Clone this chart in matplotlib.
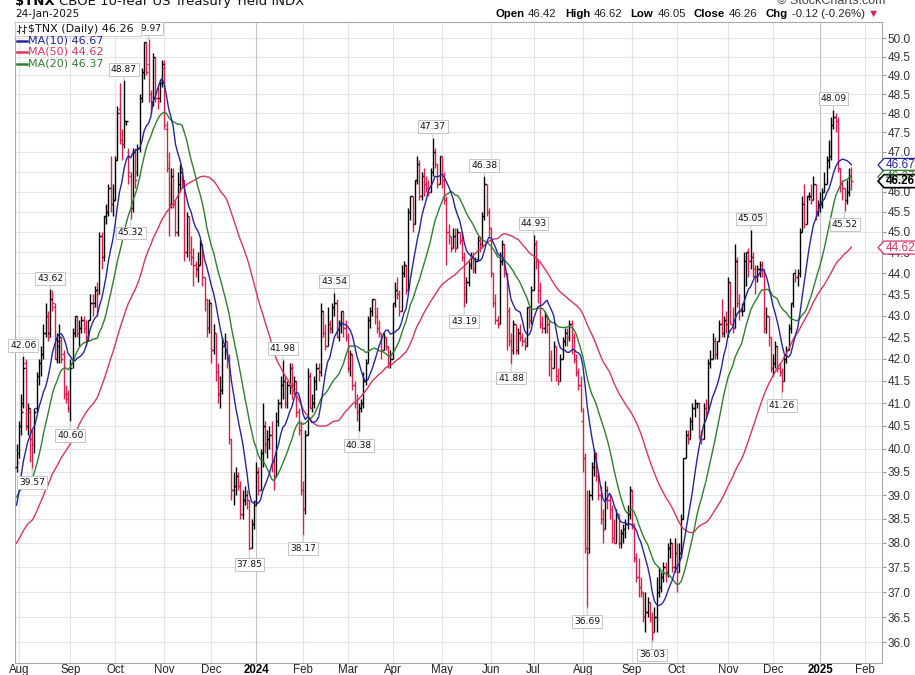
import numpy as np
import pandas as pd
import matplotlib
matplotlib.use('Agg')
import matplotlib.pyplot as plt
from matplotlib.patches import Polygon, Rectangle
from matplotlib.lines import Line2D

plt.rcParams['font.family'] = 'DejaVu Sans'

W, H = 915, 675
RED = '#d9204f'
BLUE = '#26269c'
GREEN = '#2f7f2f'
MA50C = '#d8355c'
GRID = '#e4e4e4'

# closes before the first bar (18-May-2023 .. 28-Jul-2023), only used to seed the moving averages
pre_closes = [36.4, 36.7, 37.2, 37.0, 37.4, 38.2, 38.0, 36.9, 36.4,
              36.1, 36.9, 36.9, 36.7, 37.9, 37.2, 37.4, 37.7, 38.4, 37.9, 37.2, 37.7, 37.3, 37.2, 38.0, 37.4, 37.2, 37.7, 37.1, 38.5, 38.1,
              38.6, 39.3, 40.4, 40.6, 40.1, 39.7, 38.6, 37.6, 38.3, 38.1, 37.8, 37.5, 38.5, 38.4, 38.7, 38.9, 38.7, 40.1, 39.6]

# daily bars 31-Jul-2023 .. 24-Jan-2025, one line per month
opens = [39.6,
         39.9, 40.5, 41.0, 41.9, 40.5, 40.8, 40.2, 40.1, 40.9, 41.6, 41.9, 42.1, 42.6, 43.0, 42.6, 43.4, 43.2, 42.0, 42.3, 42.4, 42.1, 41.2, 41.2,
         40.9, 41.9, 42.6, 43.0, 42.6, 42.7, 42.9, 42.7, 42.5, 42.9, 43.3, 43.3, 43.6, 43.6, 44.9, 44.4, 45.4, 45.5, 46.1, 45.7,
         45.8, 46.8, 48.1, 47.3, 47.2, 47.8, 47.0, 46.4, 45.6, 47.0, 46.5, 47.1, 48.4, 49.1, 49.9, 49.3, 48.5, 48.3, 49.5, 48.4, 48.4, 48.8,
         49.2, 47.6, 46.6, 45.7, 46.4, 45.7, 45.0, 46.2, 46.5, 46.3, 44.5, 45.4, 44.5, 44.4, 44.2, 44.1, 44.2, 44.7, 43.9, 43.4, 42.7,
         43.3, 42.2, 42.6, 41.7, 41.2, 41.3, 42.3, 42.4, 42.0, 40.2, 39.1, 39.2, 39.4, 39.2, 38.6, 38.9, 39.0, 38.9, 37.9, 38.4,
         38.8, 39.5, 39.1, 39.9, 40.5, 40.1, 40.2, 40.3, 39.7, 39.4, 40.6, 41.0, 41.4, 41.5, 41.0, 41.4, 41.8, 41.4, 41.5, 40.8, 40.4,
         39.1, 38.7, 40.3, 41.6, 40.9, 41.0, 41.5, 41.8, 41.7, 43.1, 42.6, 42.3, 42.8, 42.7, 43.2, 43.3, 42.5, 42.8, 43.1, 42.7,
         42.5, 41.8, 42.1, 41.4, 41.0, 40.8, 40.9, 41.0, 41.5, 41.9, 42.9, 43.1, 43.4, 43.0, 42.7, 42.6, 42.2, 42.5, 42.3, 41.9,
         42.0, 43.3, 43.6, 43.5, 43.1, 44.0, 44.2, 43.6, 45.5, 45.9, 45.2, 46.3, 46.7, 45.9, 46.4, 46.2, 46.1, 46.0, 46.5, 47.0, 46.7, 46.2,
         46.9, 46.3, 45.8, 45.0, 44.9, 44.6, 44.9, 44.6, 45.0, 44.8, 44.4, 43.5, 43.8, 44.2, 44.4, 44.1, 44.3, 44.8, 44.7, 45.4, 46.2, 45.5,
         45.1, 44.0, 43.3, 42.9, 42.8, 44.3, 44.7, 44.0, 43.1, 42.4, 42.2, 42.8, 42.2, 42.6, 42.5, 42.4, 42.3, 43.2, 42.9,
         43.6, 44.7, 44.3, 43.6, 42.8, 42.7, 43.0, 42.8, 42.0, 41.8, 42.3, 41.6, 41.5, 42.0, 42.4, 42.6, 42.5, 42.8, 42.5, 42.0, 41.7, 41.4,
         40.6, 39.8, 37.9, 37.9, 39.0, 39.6, 39.9, 39.4, 39.0, 38.5, 38.3, 39.1, 38.9, 38.7, 38.1, 38.0, 38.6, 38.0, 38.2, 38.3, 38.4, 38.6,
         39.1, 38.4, 37.7, 37.3, 37.1, 37.0, 36.5, 36.6, 36.8, 36.5, 36.2, 36.5, 37.0, 37.1, 37.3, 37.5, 37.4, 37.9, 38.0, 37.5,
         37.8, 37.4, 37.8, 38.5, 39.8, 40.3, 40.2, 40.6, 40.9, 41.0, 41.0, 40.3, 40.2, 40.9, 40.8, 41.9, 42.0, 42.4, 42.1, 42.4, 42.8, 42.6, 42.9,
         42.8, 43.8, 42.8, 42.7, 44.3, 43.3, 43.1, 43.1, 44.3, 44.5, 44.3, 44.4, 44.1, 43.9, 44.1, 44.2, 44.1, 42.7, 43.0, 42.5,
         41.8, 41.9, 42.3, 41.8, 41.7, 41.5, 42.0, 42.2, 42.7, 43.3, 44.0, 43.9, 44.0, 45.0, 45.7, 45.2, 45.9, 45.9, 45.8, 46.2, 45.5,
         45.7, 45.7, 46.0, 46.2, 46.8, 46.9, 47.7, 47.9, 47.8, 46.6, 46.2, 46.1, 45.8, 46.0, 46.42]

highs = [40.1,
         40.6, 41.2, 42.06, 42.0, 41.0, 40.9, 40.4, 40.9, 41.7, 42.0, 42.3, 42.8, 43.3, 43.1, 43.62, 43.6, 43.3, 42.6, 42.8, 42.5, 42.2, 41.4, 41.3,
         42.0, 42.7, 43.0, 43.0, 42.9, 43.0, 43.0, 42.9, 42.9, 43.5, 43.5, 43.7, 43.8, 45.0, 45.0, 45.4, 45.7, 46.2, 46.9, 46.2,
         46.9, 48.2, 48.8, 47.6, 48.87, 47.8, 47.1, 46.5, 47.1, 47.1, 47.2, 48.5, 49.2, 49.9, 49.9, 49.97, 48.6, 49.6, 49.5, 48.7, 48.9, 49.4,
         49.4, 47.8, 47.0, 46.6, 46.6, 45.8, 46.5, 46.7, 46.6, 46.3, 45.5, 45.4, 44.9, 44.6, 44.3, 44.5, 44.8, 44.7, 43.9, 43.4, 43.4,
         43.3, 42.8, 42.6, 41.9, 41.6, 42.5, 42.6, 42.4, 42.1, 40.2, 39.5, 39.6, 39.5, 39.3, 39.1, 39.2, 39.1, 38.9, 38.5, 38.9,
         39.7, 39.6, 40.0, 41.0, 40.6, 40.4, 40.5, 40.6, 39.8, 40.8, 41.1, 41.6, 41.98, 41.6, 41.5, 41.9, 41.9, 41.6, 41.5, 40.9, 40.6,
         39.3, 40.4, 41.8, 41.7, 41.2, 41.6, 41.9, 41.9, 43.3, 43.1, 42.8, 43.2, 42.9, 43.3, 43.54, 43.4, 42.9, 43.1, 43.1, 42.9,
         42.6, 42.2, 42.1, 41.5, 41.2, 41.0, 41.1, 41.7, 42.0, 43.0, 43.2, 43.4, 43.4, 43.2, 42.9, 42.6, 42.6, 42.5, 42.3, 42.2,
         43.3, 43.8, 43.9, 43.6, 44.2, 44.3, 44.2, 45.6, 45.9, 45.9, 46.3, 46.9, 46.8, 46.5, 46.6, 46.4, 46.3, 46.6, 47.37, 47.1, 46.7, 46.9,
         46.9, 46.5, 45.9, 45.2, 44.9, 45.1, 45.1, 45.1, 45.0, 45.0, 44.5, 43.9, 44.3, 44.5, 44.5, 44.4, 44.9, 44.9, 45.5, 46.38, 46.2, 45.6,
         45.1, 44.0, 43.5, 43.0, 44.5, 44.8, 44.7, 44.0, 43.2, 42.6, 42.9, 42.8, 42.7, 42.8, 42.6, 42.5, 43.2, 43.2, 43.7,
         44.93, 44.8, 44.3, 43.8, 43.0, 43.1, 43.0, 42.9, 42.2, 42.4, 42.3, 41.8, 42.1, 42.5, 42.7, 42.7, 42.9, 42.9, 42.6, 42.1, 41.8, 41.6,
         40.9, 39.9, 39.1, 39.1, 39.7, 40.0, 39.9, 39.5, 39.2, 38.7, 39.3, 39.2, 39.0, 38.8, 38.5, 38.7, 38.6, 38.3, 38.4, 38.5, 38.8, 39.2,
         39.1, 38.4, 37.8, 37.7, 37.3, 37.0, 37.0, 36.9, 36.8, 36.6, 36.7, 37.3, 37.5, 37.4, 37.6, 37.6, 38.0, 38.1, 38.0, 38.1,
         38.0, 38.0, 38.6, 39.8, 40.4, 40.4, 40.7, 41.0, 41.1, 41.0, 41.0, 40.4, 41.0, 41.1, 42.0, 42.2, 42.6, 42.5, 42.4, 42.9, 43.4, 43.0, 43.1,
         43.9, 43.8, 43.2, 44.7, 44.4, 43.5, 43.3, 44.5, 44.5, 44.6, 45.05, 44.5, 44.2, 44.2, 44.3, 44.3, 44.1, 43.2, 43.0, 42.5,
         42.1, 42.4, 42.3, 41.9, 41.8, 42.1, 42.3, 42.8, 43.3, 44.0, 44.1, 44.1, 45.1, 45.9, 46.2, 45.9, 46.0, 46.2, 46.4, 46.2, 45.8,
         46.0, 46.1, 46.5, 46.9, 47.3, 47.9, 48.09, 48.0, 47.9, 46.6, 46.3, 46.1, 46.3, 46.6, 46.62]

lows = [39.5,
        39.8, 40.3, 40.9, 40.4, 40.3, 39.7, 39.57, 39.9, 40.8, 41.4, 41.6, 42.0, 42.5, 42.4, 42.5, 43.1, 42.0, 41.9, 41.9, 41.9, 41.1, 41.0, 40.8,
        40.60, 41.8, 42.5, 42.5, 42.3, 42.6, 42.6, 42.3, 42.4, 42.9, 43.0, 43.2, 43.0, 43.5, 44.1, 44.3, 45.2, 45.4, 45.5, 45.4,
        45.8, 46.8, 47.2, 46.8, 47.1, 47.7, 46.2, 45.32, 45.5, 46.1, 46.4, 47.0, 48.3, 48.9, 49.0, 48.3, 48.0, 48.2, 48.3, 48.1, 48.3, 48.7,
        47.6, 46.5, 44.9, 45.6, 45.6, 44.9, 44.9, 46.0, 46.1, 44.3, 44.4, 44.3, 44.2, 43.7, 43.9, 43.8, 44.2, 43.7, 43.1, 42.5, 42.6,
        41.9, 42.1, 41.5, 41.0, 40.9, 41.2, 42.0, 41.8, 40.1, 38.9, 38.8, 39.0, 39.1, 38.5, 38.5, 38.8, 38.7, 37.85, 37.9, 38.3,
        38.8, 39.0, 39.1, 39.6, 39.9, 39.8, 40.0, 39.5, 39.1, 39.4, 40.5, 40.9, 41.1, 40.9, 40.9, 41.2, 41.1, 41.2, 40.7, 40.3, 39.0,
        38.17, 38.6, 40.3, 40.9, 40.8, 40.9, 41.3, 41.5, 41.6, 42.5, 42.2, 42.3, 42.6, 42.6, 43.0, 42.5, 42.4, 42.6, 42.5, 42.4,
        41.7, 41.6, 41.3, 40.9, 40.6, 40.38, 40.8, 40.9, 41.4, 41.9, 42.7, 43.0, 42.8, 42.6, 42.5, 42.0, 42.2, 42.2, 41.8, 41.8,
        42.0, 43.2, 43.4, 43.0, 43.1, 43.9, 43.5, 43.6, 45.3, 45.0, 45.2, 46.2, 45.8, 45.8, 45.9, 46.0, 45.9, 46.0, 46.4, 46.6, 46.1, 46.2,
        46.1, 45.7, 44.2, 44.7, 44.5, 44.6, 44.5, 44.6, 44.7, 44.3, 43.19, 43.3, 43.7, 44.1, 44.0, 44.0, 44.3, 44.5, 44.6, 45.3, 45.4, 44.9,
        43.9, 43.2, 42.8, 42.7, 42.8, 44.2, 43.9, 42.2, 42.3, 41.88, 42.1, 42.1, 42.1, 42.4, 42.3, 42.2, 42.3, 42.7, 42.8,
        43.6, 44.1, 43.3, 42.7, 42.6, 42.6, 42.6, 41.6, 41.5, 41.8, 41.5, 41.4, 41.5, 42.0, 42.3, 42.3, 42.4, 42.1, 41.9, 41.6, 41.3, 40.8,
        39.5, 37.8, 36.69, 37.8, 38.9, 39.4, 39.3, 38.9, 38.4, 38.0, 38.3, 38.7, 38.5, 38.0, 38.0, 38.0, 37.9, 37.9, 38.0, 38.1, 38.3, 38.5,
        38.3, 37.6, 37.2, 36.9, 36.9, 36.4, 36.2, 36.5, 36.4, 36.03, 36.2, 36.2, 36.9, 37.0, 37.2, 37.2, 37.3, 37.7, 37.4, 37.4,
        37.0, 37.4, 37.7, 38.5, 39.8, 40.1, 40.2, 40.4, 40.7, 40.9, 40.2, 40.1, 40.2, 40.7, 40.8, 41.8, 42.0, 42.0, 42.0, 42.4, 42.5, 42.5, 42.6,
        42.5, 42.8, 42.6, 42.7, 43.2, 42.9, 43.0, 43.1, 43.7, 43.9, 44.1, 43.9, 43.5, 43.8, 43.9, 43.9, 42.6, 42.6, 42.3, 41.7,
        41.6, 41.8, 41.7, 41.6, 41.26, 41.5, 41.9, 42.2, 42.6, 43.2, 43.8, 43.7, 43.9, 45.0, 45.1, 45.2, 45.8, 45.7, 45.8, 45.3, 45.4,
        45.5, 45.6, 46.0, 46.2, 46.6, 46.8, 47.6, 47.5, 46.5, 46.0, 45.8, 45.52, 45.7, 45.9, 46.05]

closes = [39.7,
          40.5, 40.8, 41.8, 40.5, 40.9, 40.2, 40.1, 40.8, 41.6, 41.9, 42.1, 42.6, 43.0, 42.5, 43.4, 43.3, 42.0, 42.4, 42.5, 42.0, 41.2, 41.1, 40.9,
          41.8, 42.6, 43.0, 42.6, 42.7, 42.9, 42.7, 42.5, 42.9, 43.3, 43.2, 43.6, 43.5, 44.9, 44.4, 45.4, 45.5, 46.1, 45.7, 45.8,
          46.8, 48.0, 47.3, 47.2, 47.8, 47.8, 46.5, 45.6, 47.0, 46.3, 47.1, 48.3, 49.1, 49.9, 49.1, 48.5, 48.2, 49.5, 48.4, 48.3, 48.8, 49.3,
          47.7, 46.7, 45.7, 46.4, 45.7, 45.0, 46.2, 46.5, 46.3, 44.5, 45.4, 44.5, 44.4, 44.2, 44.1, 44.2, 44.7, 43.9, 43.4, 42.7, 43.3,
          42.2, 42.6, 41.7, 41.2, 41.3, 42.3, 42.4, 42.0, 40.2, 39.1, 39.2, 39.4, 39.2, 38.6, 38.9, 39.0, 38.9, 37.9, 38.4, 38.8,
          39.5, 39.1, 39.9, 40.5, 40.1, 40.2, 40.3, 39.7, 39.4, 40.6, 41.0, 41.4, 41.5, 41.0, 41.4, 41.8, 41.4, 41.5, 40.8, 40.4, 39.1,
          38.7, 40.3, 41.6, 40.9, 41.0, 41.5, 41.8, 41.7, 43.1, 42.6, 42.3, 42.8, 42.7, 43.2, 43.3, 42.5, 42.8, 43.1, 42.7, 42.5,
          41.8, 42.1, 41.4, 41.0, 40.8, 40.9, 41.0, 41.5, 41.9, 42.9, 43.1, 43.4, 43.0, 42.7, 42.6, 42.2, 42.5, 42.3, 41.9, 42.0,
          43.3, 43.6, 43.5, 43.1, 44.0, 44.2, 43.6, 45.5, 45.9, 45.2, 46.3, 46.7, 45.9, 46.4, 46.2, 46.1, 46.0, 46.5, 47.0, 46.7, 46.2, 46.9,
          46.3, 45.8, 45.0, 44.9, 44.6, 44.9, 44.6, 45.0, 44.8, 44.4, 43.5, 43.8, 44.2, 44.4, 44.1, 44.3, 44.8, 44.7, 45.4, 46.2, 45.5, 45.1,
          44.0, 43.3, 42.9, 42.8, 44.3, 44.7, 44.0, 43.1, 42.4, 42.2, 42.8, 42.2, 42.6, 42.5, 42.4, 42.3, 43.2, 42.9, 43.6,
          44.7, 44.3, 43.6, 42.8, 42.7, 43.0, 42.8, 42.0, 41.8, 42.3, 41.6, 41.5, 42.0, 42.4, 42.6, 42.5, 42.8, 42.5, 42.0, 41.7, 41.4, 40.9,
          39.8, 37.9, 37.8, 39.0, 39.6, 39.9, 39.4, 39.0, 38.5, 38.3, 39.1, 38.9, 38.7, 38.1, 38.0, 38.6, 38.0, 38.2, 38.3, 38.4, 38.6, 39.1,
          38.4, 37.7, 37.3, 37.1, 37.0, 36.5, 36.6, 36.8, 36.5, 36.2, 36.5, 37.0, 37.1, 37.3, 37.5, 37.4, 37.9, 38.0, 37.5, 37.8,
          37.4, 37.8, 38.5, 39.8, 40.3, 40.2, 40.6, 40.9, 41.0, 41.0, 40.3, 40.2, 40.9, 40.8, 41.9, 42.0, 42.4, 42.1, 42.4, 42.8, 42.6, 42.9, 42.8,
          43.8, 42.8, 42.7, 44.3, 43.3, 43.1, 43.1, 44.3, 44.5, 44.3, 44.4, 44.1, 43.9, 44.1, 44.2, 44.1, 42.7, 43.0, 42.5, 41.8,
          41.9, 42.3, 41.8, 41.7, 41.5, 42.0, 42.2, 42.7, 43.3, 44.0, 43.9, 44.0, 45.0, 45.7, 45.2, 45.9, 45.9, 45.8, 46.2, 45.5, 45.7,
          45.7, 46.0, 46.2, 46.8, 46.9, 47.7, 47.9, 47.8, 46.6, 46.2, 46.1, 45.8, 46.0, 46.38, 46.26]

holidays = ['2023-09-04', '2023-11-23', '2023-12-25', '2024-01-01', '2024-01-15', '2024-02-19',
            '2024-03-29', '2024-05-27', '2024-06-19', '2024-07-04', '2024-09-02', '2024-11-28',
            '2024-12-25', '2025-01-01', '2025-01-09', '2025-01-20', '2025-02-17']

high_labels = ['2023-08-03', '2023-08-21', '2023-10-06', '2023-10-23', '2024-01-19', '2024-02-22',
               '2024-04-25', '2024-05-29', '2024-07-01', '2024-11-15', '2025-01-13']
low_labels = ['2023-08-09', '2023-09-01', '2023-10-11', '2023-12-27', '2024-02-01', '2024-03-08',
              '2024-05-15', '2024-06-14', '2024-08-05', '2024-09-16', '2024-12-06', '2025-01-21']

y_ticks = [36.0 + 0.5 * k for k in range(29)]

legend_rows = [('MA(10) 46.67', BLUE), ('MA(50) 44.62', MA50C), ('MA(20) 46.37', GREEN)]
tags = [(46.67, '46.67', BLUE, False), (44.62, '44.62', MA50C, False),
        (46.37, '46.37', GREEN, False), (46.26, '46.26', 'black', True)]

dates = pd.bdate_range('2023-07-31', '2025-01-24', freq='C', holidays=holidays)
assert len(dates) == len(closes) == len(opens) == len(highs) == len(lows), \
    (len(dates), len(opens), len(highs), len(lows), len(closes))

allc = pd.Series(pre_closes + closes)
n0 = len(pre_closes)
ma10 = allc.rolling(10).mean().to_numpy()[n0:]
ma20 = allc.rolling(20).mean().to_numpy()[n0:]
ma50 = allc.rolling(50).mean().to_numpy()[n0:]

x = np.arange(len(closes))
o = np.array(opens); hi = np.array(highs); lo = np.array(lows); c = np.array(closes)
prev = np.concatenate([[pre_closes[-1]], c[:-1]])
cols = np.where(c >= prev, 'black', RED)

fig = plt.figure(figsize=(W / 100, H / 100), dpi=100)
fig.patch.set_facecolor('white')
ax = fig.add_axes([15 / W, 1 - 663 / H, (882 - 15) / W, (663 - 22) / H])
ax.set_yscale('log')
ax.set_ylim(35.60, 50.44)
ax.set_xlim(-0.7, 386.7)

# grid
for v in y_ticks:
    ax.axhline(v, color=GRID, lw=0.8, zorder=0)
cal = pd.bdate_range('2023-07-31', '2025-02-28', freq='C', holidays=holidays)
firsts = [i for i in range(1, len(cal)) if cal[i].month != cal[i - 1].month and i < 386]
xlabels = []
for i in firsts:
    is_year = cal[i].month == 1
    ax.axvline(i, color='#c4c4c4' if is_year else GRID, lw=0.8, zorder=0)
    xlabels.append(str(cal[i].year) if is_year else cal[i].strftime('%b'))

# OHLC bars
ax.vlines(x, lo, hi, colors=cols, lw=1.0, zorder=3)
ax.hlines(o, x - 0.8, x, colors=cols, lw=1.0, zorder=3)
ax.hlines(c, x, x + 0.8, colors=cols, lw=1.0, zorder=3)

ax.plot(x, ma50, color=MA50C, lw=1.0, zorder=4)
ax.plot(x, ma20, color=GREEN, lw=1.0, zorder=4)
ax.plot(x, ma10, color=BLUE, lw=1.0, zorder=4)

# high / low callouts
pos = {d.strftime('%Y-%m-%d'): i for i, d in enumerate(dates)}
box = dict(boxstyle='square,pad=0.2', fc='white', ec='#c4c4c4', lw=0.7)
arr = dict(arrowstyle='-', color='#c4c4c4', lw=0.7, shrinkA=0, shrinkB=0)
for d in high_labels:
    i = pos[d]
    ax.annotate(f'{highs[i]:.2f}', xy=(i, highs[i]), xytext=(0, 11), textcoords='offset pixels',
                ha='center', va='center', fontsize=6.6, color='#111', bbox=box, arrowprops=arr, zorder=6)
for d in low_labels:
    i = pos[d]
    ax.annotate(f'{lows[i]:.2f}', xy=(i, lows[i]), xytext=(0, -14), textcoords='offset pixels',
                ha='center', va='center', fontsize=6.6, color='#111', bbox=box, arrowprops=arr, zorder=6)

# axes styling
ax.yaxis.tick_right()
ax.set_yticks(y_ticks, [f'{v:.1f}' for v in y_ticks], fontfamily='Liberation Sans')
ax.minorticks_off()
ax.tick_params(axis='y', length=3, width=0.8, color='#999999', labelsize=8.5, pad=1, labelcolor='#333333')
ax.set_xticks(firsts, xlabels, fontfamily='Liberation Sans')
ax.tick_params(axis='x', length=0, pad=0.5, labelsize=8.3, labelcolor='#222222')
for lbl in ax.get_xticklabels():
    if lbl.get_text().isdigit():
        lbl.set_fontweight('bold')
        lbl.set_color('black')
for sp in ax.spines.values():
    sp.set_color('#a8a8a8')
    sp.set_linewidth(0.8)

# price tags on the right edge
for value, text, color, bold in tags:
    yc = ax.transData.transform((0, value))[1] / H
    hh = 6.5 / H
    pts = [(878 / W, yc), (884 / W, yc + hh), (917 / W, yc + hh), (917 / W, yc - hh), (884 / W, yc - hh)]
    fig.add_artist(Polygon(pts, closed=True, transform=fig.transFigure, fc='white', ec=color,
                           lw=1.2 if bold else 0.9, zorder=10))
    fig.text(886 / W, yc, text, color=color, fontsize=8.5, fontweight='bold' if bold else 'normal',
             family='Liberation Sans', va='center', ha='left', zorder=11)

# legend
fig.add_artist(Rectangle((15 / W, 1 - 36 / H), 126 / W, 14 / H, transform=fig.transFigure,
                         fc='white', ec='#cccccc', lw=0.7, zorder=8))
for bx in (19, 24):
    fig.add_artist(Line2D([bx / W, bx / W], [1 - 25 / H, 1 - 33 / H], color='#333', lw=0.8, zorder=9))
    fig.add_artist(Line2D([(bx - 2) / W, bx / W], [1 - 31 / H, 1 - 31 / H], color='#333', lw=0.8, zorder=9))
    fig.add_artist(Line2D([bx / W, (bx + 2) / W], [1 - 27 / H, 1 - 27 / H], color='#333', lw=0.8, zorder=9))
fig.text(28 / W, 1 - 29 / H, '$TNX (Daily) 46.26', fontsize=8, color='#111', va='center', zorder=9)
for k, (txt, color) in enumerate(legend_rows):
    yy = 1 - (40.5 + 11.5 * k) / H
    fig.add_artist(Line2D([17 / W, 27 / W], [yy, yy], color=color, lw=1.8, zorder=9))
    fig.text(28 / W, yy, txt, fontsize=8, color=color, va='center', zorder=9)

# header texts
renderer = fig.canvas.get_renderer()


def row(parts, x0, ypx, size, family, va='center'):
    xp = x0
    for txt, weight, color, gap in parts:
        t = fig.text(xp / W, 1 - ypx / H, txt, fontsize=size, fontweight=weight, color=color,
                     family=family, va=va, ha='left')
        xp = t.get_window_extent(renderer).x1 + gap


row([('$TNX', 'bold', 'black', 4), ('CBOE 10-Year US Treasury Yield INDX', 'normal', '#111', 0)],
    15, 4.5, 9.5, 'DejaVu Sans', va='baseline')
fig.text(885 / W, 1 - 4.5 / H, '\u00a9 StockCharts.com', fontsize=9, color='#444', ha='right',
         va='baseline', family='Liberation Sans')
fig.text(15 / W, 1 - 14 / H, '24-Jan-2025', fontsize=7.6, color='#111', va='center')
row([('Open', 'bold', 'black', 4), ('46.42', 'normal', '#222', 8),
     ('High', 'bold', 'black', 4), ('46.62', 'normal', '#222', 8),
     ('Low', 'bold', 'black', 4), ('46.05', 'normal', '#222', 8),
     ('Close', 'bold', 'black', 4), ('46.26', 'normal', '#222', 8),
     ('Chg', 'bold', 'black', 4), ('-0.12 (-0.26%)', 'normal', '#222', 3),
     ('\u25bc', 'normal', RED, 0)],
    495, 14, 8.2, ['Liberation Sans', 'DejaVu Sans'])

fig.savefig('out.png', dpi=100)
